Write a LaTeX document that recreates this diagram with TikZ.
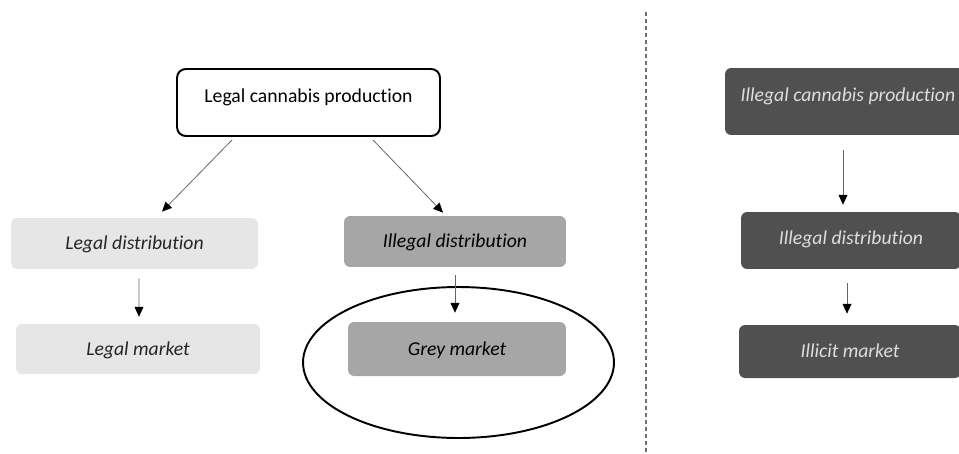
\documentclass[tikz,border=0pt]{standalone}
\usepackage{fontspec}
\setmainfont{Carlito}[Ligatures=CommonOff]
\usepackage{xcolor}
\usetikzlibrary{arrows.meta, calc, shapes.geometric}

\definecolor{paleGrey}{HTML}{E7E6E6}
\definecolor{midGrey}{HTML}{A6A6A6}
\definecolor{darkGrey}{HTML}{505050}
\definecolor{inkGrey}{HTML}{262626}
\definecolor{lineGrey}{HTML}{6F6F6F}

\tikzset{
  box/.style={rounded corners=3.5pt, inner sep=0pt, text height=7pt, text depth=0pt,
    font=\fontsize{11.2}{13}\selectfont\itshape},
  legalbox/.style={box, fill=paleGrey, text=inkGrey},
  greybox/.style={box, fill=midGrey, text=black},
  illicitbox/.style={box, fill=darkGrey, text=white!87!black},
  flow/.style={-{Triangle[length=5.5pt,width=5pt,color=black]}, draw=black!60, line width=0.45pt},
  divider/.style={draw=lineGrey, line width=0.8pt, dash pattern=on 2.3pt off 1.7pt},
}

\begin{document}
\begin{tikzpicture}[x=0.02cm, y=-0.02cm]
    \useasboundingbox (0,0) rectangle (959,453);
    \clip (0,0) rectangle (959,453);

    % Legal production
    \node[draw, line width=1.1pt, rounded corners=5pt, inner sep=0pt,
          minimum width=5.26cm, minimum height=1.34cm, text height=7pt, text depth=7pt,
          font=\fontsize{11.2}{13}\selectfont] (prod) at (308.5,102.5) {Legal cannabis production};

    % Legal column
    \node[legalbox, minimum width=4.94cm, minimum height=1.02cm] (legdist) at (134.5,243.5) {Legal distribution};
    \node[legalbox, minimum width=4.88cm, minimum height=1.0cm] (legmkt) at (138,349) {Legal market};

    % Grey column
    \node[greybox, minimum width=4.44cm, minimum height=1.02cm] (illdist) at (455,241.5) {Illegal distribution};
    \node[greybox, minimum width=4.36cm, minimum height=1.08cm] (grey) at (457,349) {Grey market};
    \node[ellipse, draw, line width=1.1pt, inner sep=0pt,
          minimum width=6.22cm, minimum height=3.02cm] (ring) at (458.5,362.5) {};

    % Arrows from legal production
    \draw[flow] ($(prod.south)+(-76.5,3)$) -- ($(legdist.north)+(27.5,-6)$);
    \draw[flow] ($(prod.south)+(64.5,3)$) -- ($(illdist.north)+(-12,-3)$);
    \draw[flow] ($(legdist.south)+(4.5,9)$) -- ($(legmkt.north)+(1,-7)$);
    \draw[flow] ($(illdist.south)+(0,8)$) -- ($(grey.north)+(-2,-9)$);

    % Dashed divider line
    \coordinate (cuttop) at (646,12);
    \coordinate (cutbot) at (646,453);
    \draw[divider] (cuttop) -- (cutbot);

    % Illicit column
    \node[illicitbox, minimum width=4.92cm, minimum height=1.34cm, text depth=7pt] (illprod) at (848,101.5) {Illegal cannabis production};
    \node[illicitbox, minimum width=4.4cm, minimum height=1.14cm, text depth=2pt] (illdist2) at (851,240.5) {Illegal distribution};
    \node[illicitbox, minimum width=4.44cm, minimum height=1.06cm] (illmkt) at (850,351.5) {Illicit market};

    \draw[flow] ($(illprod.south)+(-5,15)$) -- ($(illdist2.north)+(-8,-7)$);
    \draw[flow] ($(illdist2.south)+(-4,14)$) -- ($(illmkt.north)+(-3,-11)$);

\end{tikzpicture}
\end{document}
